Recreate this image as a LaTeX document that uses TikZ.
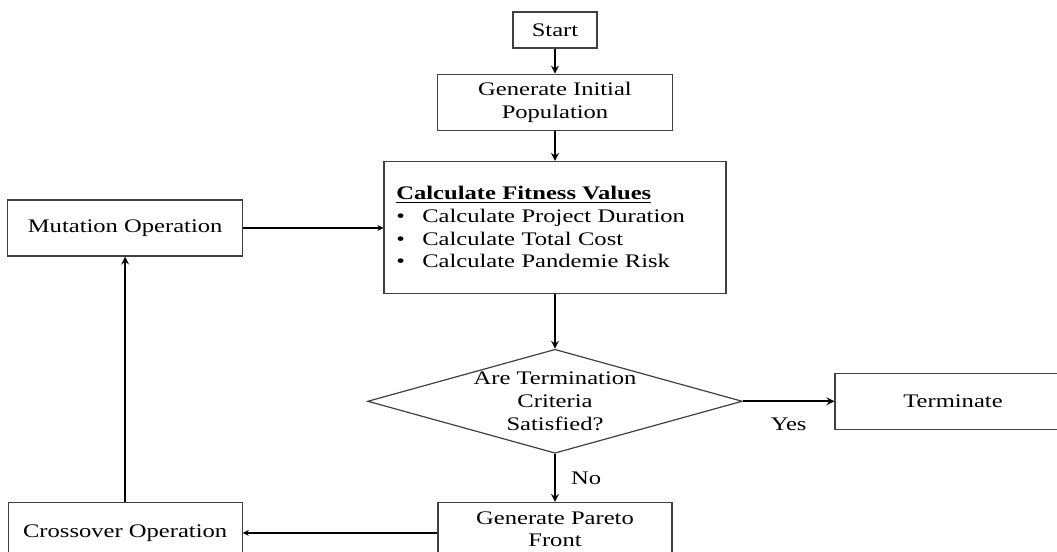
\documentclass[tikz,border=0pt]{standalone}
\usepackage{fontspec}
\setmainfont{Liberation Serif}[FakeStretch=1.28]
\usetikzlibrary{positioning, shapes.geometric, arrows}

\begin{document}
\begin{tikzpicture}[>=stealth,auto,node distance=20pt,
  every node/.append style={font=\fontsize{14.4}{17}\selectfont},
  box/.style={draw=black!75, line width=0.9pt, align=center, minimum width=176pt, minimum height=42pt, inner sep=2pt},
  decision/.style={diamond, draw=black!75, line width=0.9pt, minimum width=281pt, minimum height=78pt, inner sep=0pt},
  flow/.style={->, line width=1.6pt},
  thinflow/.style={->, line width=1pt}]
  \useasboundingbox (0,0) rectangle (792.75pt,-413.25pt);

  \node[box, minimum width=63pt, minimum height=27pt] (start) at (416.25pt,-22.5pt) {Start};
  \node[box, below=18.75pt of start] (init) {Generate Initial\\Population};
  \node[box, below=22.5pt of init, minimum width=256.5pt, minimum height=99pt, text width=238pt, align=left] (calc)
    {\textbf{\underline{Calculate Fitness Values}}\\
     \makebox[19.5pt][l]{\textbullet}Calculate Project Duration\\
     \makebox[19.5pt][l]{\textbullet}Calculate Total Cost\\
     \makebox[19.5pt][l]{\textbullet}Calculate Pandemie Risk};
  \node[decision, below=41pt of calc] (dec) {};
  \node[align=center] (dectext) at (dec) {Are Termination\\Criteria\\Satisfied?};
  \node[box, right=68.6pt of dec, minimum width=177pt] (term) {Terminate};
  \node[box, below=36pt of dec, minimum width=175.5pt, minimum height=45.75pt] (pareto)
    {Generate Pareto\\Front\rule[-6pt]{0pt}{6pt}};
  \node[box, left=146pt of pareto, minimum width=175.5pt, minimum height=45.75pt] (cross) {Crossover Operation};
  \node[box, above=184pt of cross] (mut) {Mutation Operation};

  \draw (start) edge[flow] (init)
        (init) edge[flow] (calc)
        (calc) edge[flow] (dec)
        (dec) edge[flow] node[below=8pt] {Yes} (term)
        (dec) edge[flow] node[right=8pt] {No} (pareto)
        (pareto) edge[thinflow] (cross)
        (cross) edge[flow] (mut)
        (mut.east) edge[thinflow] (mut.east -| calc.west);
\end{tikzpicture}
\end{document}
